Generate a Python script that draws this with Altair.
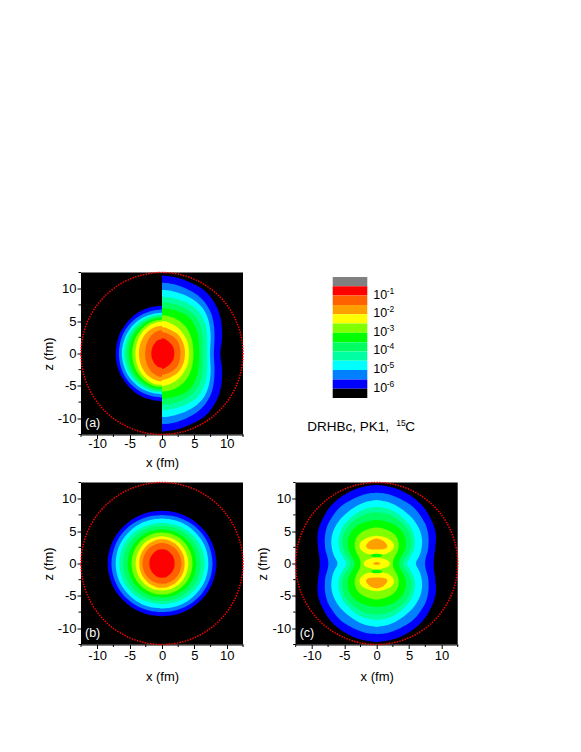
import altair as alt
import pandas as pd

FONT = "Liberation Sans"
LEVELS = ["blue", "azure", "cyan", "aqua", "spring", "green", "ygreen", "yellow", "orange", "ored", "red"]
COLORS = ["#0000FF", "#0080FF", "#00FFFF", "#00FFA0", "#00FF60", "#00FF00", "#80FF00", "#FFFF00", "#FFA000", "#FF6000", "#FF0000"]

LEGEND_COLORS = ["#808080", "#FF0000", "#FF6000", "#FFA000", "#FFFF00", "#80FF00", "#00FF00", "#00FF60", "#00FFA0", "#00FFFF", "#0080FF", "#0000FF", "#000000"]
LEGEND_POWERS = ["-1", "-2", "-3", "-4", "-5", "-6"]
LEGEND_POS = [2, 4, 6, 8, 10, 12]

MAJOR_TICKS = [-10, -5, 0, 5, 10]
MINOR_TICKS = [-12.5, -7.5, -2.5, 2.5, 7.5, 12.5]

# contour outlines: (z values of upper half, half width at each z)
A_LEFT = {
    "blue": ([0, 2.6, 4.4, 5.9, 6.8, 7.2, 7.35], [7.15, 6.7, 5.7, 4.3, 2.8, 1.4, 0]),
    "azure": ([0, 2.4, 4.1, 5.45, 6.25, 6.65, 6.8], [6.65, 6.25, 5.35, 4.0, 2.55, 1.3, 0]),
    "cyan": ([0, 2.2, 3.8, 5.05, 5.8, 6.15, 6.3], [6.2, 5.8, 4.95, 3.7, 2.4, 1.25, 0]),
    "aqua": ([0, 2.1, 3.6, 4.8, 5.5, 5.9, 6.0], [5.85, 5.5, 4.7, 3.5, 2.3, 1.15, 0]),
    "spring": ([0, 2, 3.45, 4.6, 5.3, 5.65, 5.75], [5.5, 5.15, 4.4, 3.3, 2.15, 1.1, 0]),
    "green": ([0, 1.9, 3.3, 4.4, 5.05, 5.4, 5.5], [5.1, 4.8, 4.1, 3.05, 2, 1, 0]),
    "ygreen": ([0, 1.8, 3.1, 4.15, 4.8, 5.1, 5.2], [4.6, 4.3, 3.7, 2.75, 1.8, 0.9, 0]),
    "yellow": ([0, 1.7, 2.95, 3.9, 4.5, 4.8, 4.9], [4.1, 3.85, 3.3, 2.45, 1.6, 0.8, 0]),
    "orange": ([0, 1.5, 2.6, 3.45, 3.95, 4.2, 4.3], [3.55, 3.35, 2.85, 2.15, 1.4, 0.7, 0]),
    "ored": ([0, 1.25, 2.15, 2.9, 3.3, 3.55, 3.6], [2.6, 2.45, 2.1, 1.55, 1, 0.5, 0]),
    "red": ([0, 0.75, 1.3, 1.75, 2.05, 2.15, 2.2], [1.65, 1.55, 1.3, 1, 0.65, 0.35, 0]),
}
A_RIGHT = {
    "blue": ([0, 1, 2, 3, 4, 5, 6, 7, 8, 9, 10, 11, 11.6, 11.9, 12.05], [9.0, 9.1, 9.25, 9.3, 9.25, 9.15, 8.9, 8.55, 8.0, 7.3, 6.2, 4.3, 2.7, 1.3, 0]),
    "azure": ([0, 2, 3, 4, 5, 6, 7, 8, 9, 10, 10.5, 10.8, 10.9], [8.0, 8.1, 8.1, 8.05, 7.9, 7.65, 7.2, 6.55, 5.5, 3.8, 2.5, 1.2, 0]),
    "cyan": ([0, 2, 3, 4, 5, 6, 7, 8, 9, 9.5, 9.75, 9.8], [7.4, 7.5, 7.5, 7.4, 7.2, 6.85, 6.3, 5.3, 3.6, 2.1, 0.9, 0]),
    "aqua": ([0, 2, 3, 4, 5, 6, 7, 8, 8.4, 8.7, 8.75], [7.0, 7.0, 6.95, 6.8, 6.5, 6.0, 5.2, 3.5, 2.2, 0.8, 0]),
    "spring": ([0, 2, 3, 4, 5, 6, 7, 7.5, 7.85, 7.9], [6.35, 6.3, 6.2, 6.0, 5.6, 4.9, 3.6, 2.4, 0.9, 0]),
    "green": ([0, 2, 3, 4, 5, 6, 6.5, 6.8, 7], [5.75, 5.65, 5.5, 5.2, 4.65, 3.6, 2.6, 1.5, 0]),
    "ygreen": ([0, 1, 2, 3, 4, 5, 5.5, 5.8, 5.9], [4.85, 4.8, 4.65, 4.3, 3.75, 2.7, 1.8, 0.8, 0]),
    "yellow": ([0, 1, 2, 3, 4, 4.5, 4.9, 5], [4.2, 4.1, 3.85, 3.3, 2.4, 1.6, 0.7, 0]),
    "orange": ([0, 1, 2, 3, 3.5, 3.9, 4.1], [3.55, 3.45, 3.1, 2.4, 1.6, 0.8, 0]),
    "ored": ([0, 1, 2, 2.7, 3.1, 3.3], [2.85, 2.75, 2.35, 1.6, 0.8, 0]),
    "red": ([0, 0.5, 1, 1.5, 2, 2.3, 2.4], [1.9, 1.85, 1.7, 1.35, 0.8, 0.3, 0]),
}
B_FULL = {
    "blue": ([0, 2.85, 4.9, 6.5, 7.5, 8, 8.15], [8.4, 7.85, 6.7, 5.05, 3.3, 1.65, 0]),
    "azure": ([0, 2.6, 4.5, 6, 6.9, 7.35, 7.5], [7.8, 7.3, 6.25, 4.7, 3.05, 1.55, 0]),
    "cyan": ([0, 2.45, 4.15, 5.55, 6.4, 6.8, 6.95], [7.15, 6.7, 5.7, 4.3, 2.8, 1.45, 0]),
    "aqua": ([0, 2.2, 3.8, 5.05, 5.8, 6.15, 6.3], [6.6, 6.2, 5.3, 3.95, 2.55, 1.3, 0]),
    "spring": ([0, 2.05, 3.5, 4.65, 5.35, 5.7, 5.8], [6, 5.6, 4.8, 3.6, 2.35, 1.2, 0]),
    "green": ([0, 1.85, 3.15, 4.2, 4.85, 5.15, 5.25], [5.3, 4.95, 4.25, 3.2, 2.05, 1.05, 0]),
    "ygreen": ([0, 1.7, 2.9, 3.85, 4.4, 4.7, 4.8], [4.7, 4.4, 3.75, 2.8, 1.85, 0.95, 0]),
    "yellow": ([0, 1.45, 2.5, 3.35, 3.85, 4.1, 4.2], [4.06, 3.8, 3.25, 2.45, 1.6, 0.8, 0]),
    "orange": ([0, 1.3, 2.25, 3, 3.45, 3.7, 3.75], [3.5, 3.3, 2.8, 2.1, 1.35, 0.7, 0]),
    "ored": ([0, 1.1, 1.9, 2.5, 2.9, 3.1, 3.15], [3, 2.8, 2.4, 1.8, 1.15, 0.6, 0]),
    "red": ([0, 0.75, 1.3, 1.75, 2.05, 2.15, 2.2], [1.95, 1.85, 1.55, 1.15, 0.75, 0.4, 0]),
}
C_FULL = {
    "blue": ([0, 1, 2, 3, 4, 5, 6, 7, 8, 9, 10, 11, 11.6, 11.95, 12.1], [8.8, 8.85, 9.0, 9.1, 9.15, 9.05, 8.75, 8.3, 7.75, 7.0, 5.9, 4.3, 2.9, 1.4, 0]),
    "azure": ([0, 1, 2, 3, 4, 5, 6, 7, 8, 9, 10, 10.5, 10.8, 10.9], [7.45, 7.6, 7.9, 8.0, 8.0, 7.85, 7.55, 7.0, 6.3, 5.3, 3.6, 2.4, 1.2, 0]),
    "cyan": ([0, 0.5, 1, 2, 3, 4, 5, 6, 7, 8, 9, 9.5, 9.8], [6.05, 6.2, 6.5, 6.85, 7.0, 6.95, 6.7, 6.2, 5.5, 4.4, 2.9, 1.7, 0]),
    "aqua": ([0, 0.5, 1, 2, 3, 4, 5, 6, 7, 8, 8.5, 8.75], [4.7, 4.9, 5.2, 5.7, 5.9, 5.85, 5.55, 5.0, 4.1, 2.8, 1.5, 0]),
    "spring": ([0, 0.5, 1, 2, 3, 4, 5, 6, 7, 7.5, 7.8, 7.9], [4.05, 4.2, 4.5, 5.1, 5.35, 5.25, 4.9, 4.2, 3.0, 2.1, 1.0, 0]),
    "green": ([0, 0.5, 1, 2, 3, 4, 5, 6, 6.4, 6.65, 6.7], [3.4, 3.5, 3.75, 4.3, 4.5, 4.35, 3.85, 2.7, 1.7, 0.7, 0]),
    "ygreen": ([0, 0.5, 1, 2, 3, 4, 4.5, 5, 5.3, 5.5, 5.55], [2.5, 2.55, 2.75, 3.25, 3.4, 3.1, 2.7, 2.0, 1.3, 0.5, 0]),
}
C_MID_YELLOW = ([0, 0.3, 0.55, 0.75, 0.87, 0.9], [2.0, 1.9, 1.55, 1.0, 0.5, 0])
C_MID_ORANGE = ([0, 0.1, 0.2, 0.22], [0.55, 0.45, 0.2, 0])
C_LOBE_YELLOW = ([1.3, 1.35, 1.5, 1.8, 2.3, 2.8, 3.3, 3.8, 4.1, 4.3], [0, 0.8, 1.5, 2.1, 2.55, 2.65, 2.45, 1.85, 1.1, 0])
C_LOBE_ORANGE = ([2.15, 2.2, 2.4, 2.7, 3.1, 3.5, 3.75, 3.85], [0, 1.0, 1.5, 1.65, 1.45, 1.0, 0.5, 0])
C_NECK_GREEN = ([1.0, 1.05, 1.15, 1.25, 1.35, 1.45, 1.5], [0, 0.5, 0.8, 0.87, 0.8, 0.5, 0])


def sym(group, level, zs, xs, left=True, right=True):
    pts = [(-z, x) for z, x in zip(zs[::-1], xs[::-1]) if z != 0] + list(zip(zs, xs))
    return [{"group": group, "level": level, "z": z, "x0": -x if left else 0, "x1": x if right else 0} for z, x in pts]


def lobe(group, level, zs, xs, sign):
    return [{"group": group, "level": level, "z": sign * z, "x0": -x, "x1": x} for z, x in zip(zs, xs)]


rows_a = []
for lv in LEVELS:
    rows_a += sym("L" + lv, lv, *A_LEFT[lv], right=False)
for lv in LEVELS:
    rows_a += sym("R" + lv, lv, *A_RIGHT[lv], left=False)
rows_b = []
for lv in LEVELS:
    rows_b += sym(lv, lv, *B_FULL[lv])
rows_c = []
for lv in C_FULL:
    rows_c += sym(lv, lv, *C_FULL[lv])
rows_c += sym("midy", "yellow", *C_MID_YELLOW)
rows_c += lobe("upy", "yellow", *C_LOBE_YELLOW, 1) + lobe("loy", "yellow", *C_LOBE_YELLOW, -1)
rows_c += lobe("upg", "green", *C_NECK_GREEN, 1) + lobe("log", "green", *C_NECK_GREEN, -1)
rows_c += sym("mido", "orange", *C_MID_ORANGE)
rows_c += lobe("upo", "orange", *C_LOBE_ORANGE, 1) + lobe("loo", "orange", *C_LOBE_ORANGE, -1)

W = 162
SIZE = 26244
DOM = [-12.5, 12.5]


def axis(title, label_pad, title_pad):
    return alt.Axis(
        title=title, values=MAJOR_TICKS, grid=False,
        labelExpr="'' + datum.value", tickSize=4,
        tickColor="black", domainColor="black", tickWidth=1,
        labelFont=FONT, labelFontSize=13, labelColor="black", titleFont=FONT, titleFontSize=13,
        titleFontWeight="normal", titleColor="black", labelPadding=label_pad, titlePadding=title_pad,
        labelOverlap=False, labelFlush=False, labelBound=False,
    )


def panel(rows, name, xlp, xtp):
    xs = alt.Scale(domain=DOM, nice=False, zero=False)
    ys = alt.Scale(domain=DOM, nice=False, zero=False)
    area = alt.Chart(pd.DataFrame(rows)).mark_area(orient="horizontal", interpolate="catmull-rom", opacity=1).encode(
        x=alt.X("x0:Q", scale=xs, axis=axis("x (fm)", xlp, xtp)),
        x2="x1:Q",
        y=alt.Y("z:Q", scale=ys, axis=axis("z (fm)", 1, 2)),
        color=alt.Color("level:N", scale=alt.Scale(domain=LEVELS, range=COLORS), legend=None),
        detail="group:N",
    )
    ring = alt.Chart(pd.DataFrame({"x": [0], "z": [0]})).mark_point(
        filled=False, shape="circle", stroke="#FF0000", strokeWidth=1.5, strokeDash=[1.4, 1.3], opacity=1
    ).encode(x=alt.X("x:Q", scale=xs), y=alt.Y("z:Q", scale=ys), size=alt.value(SIZE))
    minor = pd.DataFrame({"v": MINOR_TICKS})
    mx = alt.Chart(minor).mark_rule(color="black", strokeWidth=1, clip=False).encode(
        x=alt.X("v:Q", scale=xs), y=alt.value(W), y2=alt.value(W + 2.5))
    my = alt.Chart(minor).mark_rule(color="black", strokeWidth=1, clip=False).encode(
        y=alt.Y("v:Q", scale=ys), x=alt.value(0), x2=alt.value(-2.5))
    tag = alt.Chart(pd.DataFrame({"t": [name]})).mark_text(
        color="white", font=FONT, fontSize=12.5, align="left", baseline="middle"
    ).encode(x=alt.value(4), y=alt.value(150), text="t:N")
    return alt.layer(area, ring, mx, my, tag).properties(width=W, height=W, view=alt.ViewBackground(fill="black", stroke=None))


ly = alt.Scale(domain=[0, 13], range=[4.5, 125.5], nice=False, zero=False)
legend_df = pd.DataFrame({"i": list(range(13)), "j": list(range(1, 14)), "c": LEGEND_COLORS})
bars = alt.Chart(legend_df).mark_rect().encode(
    x=alt.value(37), x2=alt.value(71.6),
    y=alt.Y("i:Q", scale=ly, axis=None), y2="j:Q",
    color=alt.Color("c:N", scale=None),
)
lab_df = pd.DataFrame({"p": LEGEND_POS, "base": ["10"] * 6, "pow": LEGEND_POWERS})
base = alt.Chart(lab_df).mark_text(font=FONT, fontSize=12.5, align="left", baseline="middle", color="black", dy=-1).encode(
    x=alt.value(77.5), y=alt.Y("p:Q", scale=ly, axis=None), text="base:N")
pw = alt.Chart(lab_df).mark_text(font=FONT, fontSize=8.5, align="left", baseline="middle", color="black", dy=-5).encode(
    x=alt.value(91), y=alt.Y("p:Q", scale=ly, axis=None), text="pow:N")
cap = alt.Chart(pd.DataFrame({"t": ["DRHBc, PK1,"]})).mark_text(font=FONT, fontSize=13.5, align="left", baseline="middle", color="black").encode(
    x=alt.value(11.5), y=alt.value(154.5), text="t:N")
cap15 = alt.Chart(pd.DataFrame({"t": ["15"]})).mark_text(font=FONT, fontSize=8.5, align="left", baseline="middle", color="black").encode(
    x=alt.value(100.5), y=alt.value(150), text="t:N")
capC = alt.Chart(pd.DataFrame({"t": ["C"]})).mark_text(font=FONT, fontSize=13.5, align="left", baseline="middle", color="black").encode(
    x=alt.value(109.5), y=alt.value(154.5), text="t:N")
legend_panel = alt.layer(bars, base, pw, cap, cap15, capC).properties(width=W, height=W, view=alt.ViewBackground(fill=None, stroke=None))

a = panel(rows_a, "(a)", -1, 6)
b = panel(rows_b, "(b)", 1, 8)
c = panel(rows_c, "(c)", 1, 8)

chart = alt.concat(a, legend_panel, b, c, columns=2, spacing={"row": 10, "column": 10.7}).properties(
    padding={"left": 34, "top": 261.5, "right": 0, "bottom": 0}
).configure_view(stroke=None)

chart.save("out.html", embed_options={"renderer": "svg", "actions": False})
